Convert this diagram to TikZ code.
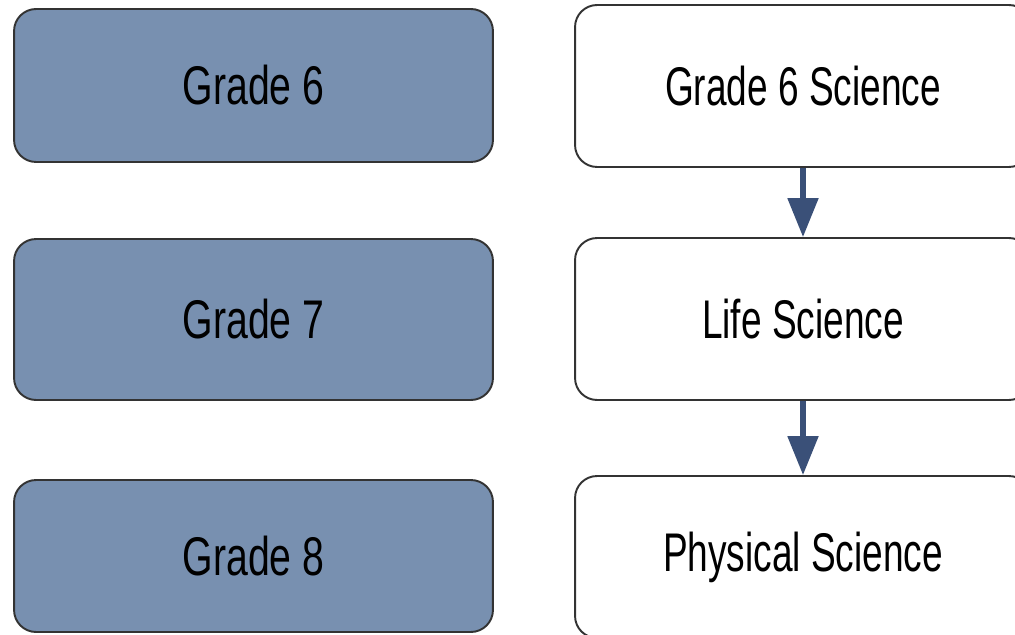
\documentclass[tikz,border=0pt]{standalone}
\usepackage{fontspec}
\setmainfont[FakeStretch=0.72]{Liberation Sans}
\newfontfamily\coursefont[FakeStretch=0.68]{Liberation Sans}
\usepackage{tikz}
\usetikzlibrary{arrows.meta}

\definecolor{gradefill}{HTML}{7890B0}
\definecolor{boxline}{HTML}{333333}
\definecolor{flowarrow}{HTML}{3A5078}

\tikzset{
  gradebox/.style={draw=boxline, line width=1.1pt, fill=gradefill, rounded corners=0.44cm,
    minimum width=9.58cm, font=\fontsize{31}{36}\selectfont},
  coursebox/.style={draw=boxline, line width=1.1pt, fill=white, rounded corners=0.44cm,
    minimum width=9.12cm, font=\coursefont\fontsize{31}{36}\selectfont},
  flow/.style={-{Triangle[width=0.6cm,length=0.78cm]}, line width=3pt, draw=flowarrow, fill=flowarrow}
}

\begin{document}
\begin{tikzpicture}[x=0.02cm,y=-0.02cm]
  \useasboundingbox (0,0) rectangle (1015,635);

  % grades
  \node[gradebox, minimum height=3.06cm] (g6) at (253.5,85.5) {Grade 6};
  \node[gradebox, minimum height=3.22cm] (g7) at (253.5,319.5) {Grade 7};
  \node[gradebox, minimum height=3.04cm] (g8) at (253.5,556) {Grade 8};

  % courses
  \node[coursebox, minimum height=3.24cm] (sci6) at (803,86) {Grade 6 Science};
  \node[coursebox, minimum height=3.24cm] (life) at (803,319) {Life Science};
  \node[coursebox, minimum height=3.24cm] (phys) at (803,557) {Physical Science};

  % sequence
  \draw[flow] (sci6) -- (life);
  \draw[flow] (life) -- (phys);
\end{tikzpicture}
\end{document}
